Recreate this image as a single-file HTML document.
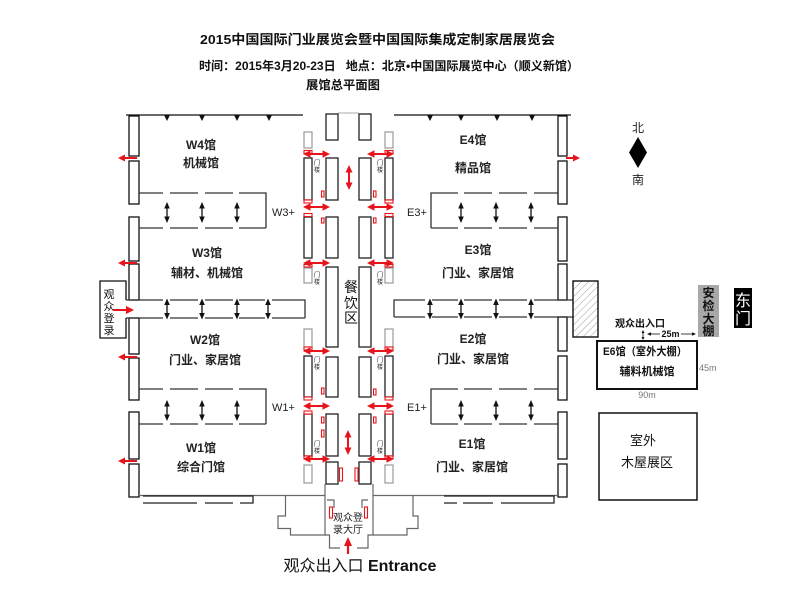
<!DOCTYPE html>
<html><head><meta charset="utf-8"><style>
html,body{margin:0;padding:0;background:#fff;}
svg{display:block;}
text{font-family:"Liberation Sans","Noto Sans CJK SC",sans-serif;}
</style></head><body>
<svg width="800" height="589" viewBox="0 0 800 589" xmlns="http://www.w3.org/2000/svg">
<defs>
<g id="bda"><line x1="0" y1="-6" x2="0" y2="6" stroke="#111" stroke-width="1.3"/><polygon points="0,-10.5 -2.8,-4 2.8,-4" fill="#111"/><polygon points="0,10.5 -2.8,4 2.8,4" fill="#111"/></g>
<g id="rda"><line x1="-8" y1="0" x2="8" y2="0" stroke="#e8141b" stroke-width="2"/><polygon points="-13.5,0 -6,-3.8 -6,3.8" fill="#e8141b"/><polygon points="13.5,0 6,-3.8 6,3.8" fill="#e8141b"/></g>
<g id="rdv"><line x1="0" y1="-7" x2="0" y2="7" stroke="#e8141b" stroke-width="2"/><polygon points="0,-12.5 -3.5,-5 3.5,-5" fill="#e8141b"/><polygon points="0,12.5 -3.5,5 3.5,5" fill="#e8141b"/></g>
<pattern id="hatch" width="5" height="5" patternUnits="userSpaceOnUse" patternTransform="rotate(45)"><line x1="0" y1="0" x2="0" y2="5" stroke="#888" stroke-width="0.8"/></pattern>
</defs>
<rect width="800" height="589" fill="#fff"/>

<!-- Titles -->
<text x="200" y="44" font-size="13" font-weight="bold" textLength="355" lengthAdjust="spacingAndGlyphs" fill="#111">2015中国国际门业展览会暨中国国际集成定制家居展览会</text>
<text x="199" y="70" font-size="12" font-weight="bold" textLength="380" lengthAdjust="spacingAndGlyphs" fill="#111">时间：2015年3月20-23日&#160;&#160;&#160;地点：北京•中国国际展览中心（顺义新馆）</text>
<text x="306" y="89" font-size="12" font-weight="bold" textLength="74" lengthAdjust="spacingAndGlyphs" fill="#111">展馆总平面图</text>

<!-- Top walls -->
<g stroke="#111" stroke-width="1.3">
<line x1="126" y1="115" x2="303" y2="115"/>
<line x1="394" y1="115" x2="571" y2="115"/>
<line x1="338" y1="113" x2="359" y2="113" stroke="#aaa" stroke-width="1"/>
</g>
<g fill="#111">
<polygon points="164,115 170,115 167,121"/><polygon points="199,115 205,115 202,121"/><polygon points="234,115 240,115 237,121"/><polygon points="266,115 272,115 269,121"/>
<polygon points="427,115 433,115 430,121"/><polygon points="458,115 464,115 461,121"/><polygon points="494,115 500,115 497,121"/><polygon points="529,115 535,115 532,121"/>
</g>

<!-- Side wall rects -->
<g fill="#fff" stroke="#111" stroke-width="1.3">
<rect x="129" y="116" width="10" height="40"/><rect x="129" y="161" width="10" height="43"/><rect x="129" y="217" width="10" height="44"/><rect x="129" y="264" width="10" height="36"/>
<rect x="129" y="318" width="10" height="36"/><rect x="129" y="358" width="10" height="42"/><rect x="129" y="412" width="10" height="47"/><rect x="129" y="464" width="10" height="33"/>
<rect x="558" y="116" width="9" height="40"/><rect x="558" y="161" width="9" height="43"/><rect x="558" y="217" width="9" height="44"/><rect x="558" y="264" width="9" height="36"/>
<rect x="558" y="317" width="9" height="34"/><rect x="558" y="356" width="9" height="44"/><rect x="558" y="412" width="9" height="47"/><rect x="558" y="464" width="9" height="33"/>
</g>

<!-- red exit arrows on walls -->
<g fill="#e8141b" stroke="#e8141b" stroke-width="2">
<line x1="124" y1="158" x2="137" y2="158"/><polygon points="118,158 125,154.5 125,161.5" stroke="none"/>
<line x1="124" y1="263" x2="137" y2="263"/><polygon points="118,263 125,259.5 125,266.5" stroke="none"/>
<line x1="124" y1="357" x2="137" y2="357"/><polygon points="118,357 125,353.5 125,360.5" stroke="none"/>
<line x1="124" y1="461" x2="137" y2="461"/><polygon points="118,461 125,457.5 125,464.5" stroke="none"/>
<line x1="566" y1="158" x2="574" y2="158"/><polygon points="580,158 573,154.5 573,161.5" stroke="none"/>
</g>

<!-- Corridors (dashed walls) -->
<g stroke="#333" stroke-width="1.3" fill="none">
<path d="M139,193H163M170,193H198M205,193H233M239,193H266V228M139,228H163M170,228H198M205,228H233M239,228H266"/>
<path d="M139,389H163M170,389H198M205,389H233M239,389H266V424M139,424H163M170,424H198M205,424H233M239,424H266"/>
<path d="M126,300H163M170,300H198M205,300H233M239,300H265M272,300H305V318M126,318H163M170,318H198M205,318H233M239,318H265M272,318H305"/>
<path d="M431,228V193H458M464,193H492M499,193H527M534,193H558M431,228H458M464,228H492M499,228H527M534,228H558"/>
<path d="M431,424V389H458M464,389H492M499,389H527M534,389H558M431,424H458M464,424H492M499,424H527M534,424H558"/>
<path d="M394,317V300H425M432,300H458M464,300H492M499,300H527M534,300H573M394,317H425M432,317H458M464,317H492M499,317H527M534,317H573"/>
</g>

<!-- Black double arrows -->
<use href="#bda" x="167" y="212.5"/><use href="#bda" x="202" y="212.5"/><use href="#bda" x="237" y="212.5"/>
<use href="#bda" x="167" y="309"/><use href="#bda" x="202" y="309"/><use href="#bda" x="237" y="309"/><use href="#bda" x="268" y="309"/>
<use href="#bda" x="167" y="410.5"/><use href="#bda" x="202" y="410.5"/><use href="#bda" x="237" y="410.5"/>
<use href="#bda" x="461" y="212.5"/><use href="#bda" x="496" y="212.5"/><use href="#bda" x="531" y="212.5"/>
<use href="#bda" x="430" y="309"/><use href="#bda" x="461" y="309"/><use href="#bda" x="496" y="309"/><use href="#bda" x="531" y="309"/>
<use href="#bda" x="461" y="410.5"/><use href="#bda" x="496" y="410.5"/><use href="#bda" x="531" y="410.5"/>

<!-- 观众登录 box -->
<path d="M126,300V281H100V338H126V318" fill="none" stroke="#111" stroke-width="1.3"/>
<g font-size="11" fill="#111" text-anchor="middle">
<text x="109" y="298">观</text><text x="109" y="310">众</text><text x="109" y="322">登</text><text x="109" y="334">录</text>
</g>
<line x1="113" y1="310" x2="127" y2="310" stroke="#e8141b" stroke-width="2"/><polygon points="134,310 126,306 126,314" fill="#e8141b"/>

<!-- Hall labels -->
<g font-size="12" font-weight="bold" fill="#222" text-anchor="middle">
<text x="201" y="149">W4馆</text><text x="201" y="167">机械馆</text>
<text x="207" y="257">W3馆</text><text x="207" y="277">辅材、机械馆</text>
<text x="205" y="344">W2馆</text><text x="205" y="364">门业、家居馆</text>
<text x="201" y="452">W1馆</text><text x="201" y="471">综合门馆</text>
<text x="473" y="144">E4馆</text><text x="473" y="172">精品馆</text>
<text x="478" y="254">E3馆</text><text x="478" y="277">门业、家居馆</text>
<text x="473" y="343">E2馆</text><text x="473" y="363">门业、家居馆</text>
<text x="472" y="448">E1馆</text><text x="472" y="471">门业、家居馆</text>
</g>
<g font-size="11" fill="#222">
<text x="272" y="216">W3+</text><text x="272" y="411">W1+</text>
<text x="407" y="216">E3+</text><text x="407" y="411">E1+</text>
</g>

<!-- Center column rects -->
<g fill="#fff" stroke="#999" stroke-width="1.2">
<rect x="304" y="132" width="8" height="16"/><rect x="304" y="268" width="8" height="15"/><rect x="304" y="329" width="8" height="18"/><rect x="304" y="465" width="8" height="18"/>
<rect x="385" y="132" width="8" height="16"/><rect x="385" y="268" width="8" height="15"/><rect x="385" y="329" width="8" height="18"/><rect x="385" y="465" width="8" height="18"/>
</g>
<g fill="#fff" stroke="#222" stroke-width="1.3">
<rect x="304" y="158" width="8" height="42"/><rect x="304" y="217" width="8" height="41"/><rect x="304" y="356" width="8" height="41"/><rect x="304" y="414" width="8" height="42"/>
<rect x="385" y="158" width="8" height="42"/><rect x="385" y="217" width="8" height="41"/><rect x="385" y="356" width="8" height="41"/><rect x="385" y="414" width="8" height="42"/>
<rect x="326" y="114" width="12" height="26"/><rect x="326" y="158" width="12" height="42"/><rect x="326" y="217" width="12" height="41"/><rect x="326" y="267" width="12" height="80"/><rect x="326" y="357" width="12" height="40"/><rect x="326" y="414" width="12" height="42"/><rect x="326" y="462" width="12" height="22"/>
<rect x="359" y="114" width="12" height="26"/><rect x="359" y="158" width="12" height="42"/><rect x="359" y="217" width="12" height="41"/><rect x="359" y="267" width="12" height="80"/><rect x="359" y="357" width="12" height="40"/><rect x="359" y="414" width="12" height="42"/><rect x="359" y="462" width="12" height="22"/>
</g>
<!-- small red door rects -->
<g fill="#fff" stroke="#e8141b" stroke-width="1.1">
<rect x="304" y="150.5" width="8" height="3"/><rect x="304" y="200" width="8" height="3"/><rect x="304" y="213.5" width="8" height="3"/><rect x="304" y="264.5" width="8" height="2.5"/><rect x="304" y="347" width="8" height="3"/><rect x="304" y="397" width="8" height="3"/><rect x="304" y="411" width="8" height="3"/><rect x="304" y="456" width="8" height="2.5"/>
<rect x="385" y="150.5" width="8" height="3"/><rect x="385" y="200" width="8" height="3"/><rect x="385" y="213.5" width="8" height="3"/><rect x="385" y="264.5" width="8" height="2.5"/><rect x="385" y="347" width="8" height="3"/><rect x="385" y="397" width="8" height="3"/><rect x="385" y="411" width="8" height="3"/><rect x="385" y="456" width="8" height="2.5"/>
<rect x="321.5" y="191" width="2.5" height="6"/><rect x="321.5" y="218" width="2.5" height="5"/><rect x="321.5" y="388" width="2.5" height="6"/><rect x="321.5" y="417" width="2.5" height="6"/><rect x="321.5" y="430" width="2.5" height="7"/>
<rect x="373.5" y="191" width="2.5" height="6"/><rect x="373.5" y="218" width="2.5" height="5"/><rect x="373.5" y="389" width="2.5" height="6"/><rect x="373.5" y="417" width="2.5" height="6"/>
<rect x="339.5" y="468" width="3" height="13"/><rect x="355" y="468" width="3" height="13"/>
<rect x="329.5" y="507" width="3" height="11"/><rect x="364.5" y="507" width="3" height="11"/>
</g>

<!-- red horizontal double arrows -->
<use href="#rda" x="316.5" y="154"/><use href="#rda" x="316.5" y="207"/><use href="#rda" x="316.5" y="263"/><use href="#rda" x="316.5" y="351"/><use href="#rda" x="316.5" y="406"/><use href="#rda" x="316.5" y="459"/>
<use href="#rda" x="380.5" y="154"/><use href="#rda" x="380.5" y="207"/><use href="#rda" x="380.5" y="263"/><use href="#rda" x="380.5" y="351"/><use href="#rda" x="380.5" y="406"/><use href="#rda" x="380.5" y="459"/>
<use href="#rdv" x="349" y="177.5"/><use href="#rdv" x="348" y="442.5"/>

<!-- 门楼 tiny labels -->
<g font-size="6" fill="#222" text-anchor="middle">
<text x="317" y="165">门</text><text x="317" y="172">楼</text>
<text x="317" y="277">门</text><text x="317" y="284">楼</text>
<text x="317" y="362">门</text><text x="317" y="369">楼</text>
<text x="317" y="446">门</text><text x="317" y="453">楼</text>
<text x="380" y="165">门</text><text x="380" y="172">楼</text>
<text x="380" y="277">门</text><text x="380" y="284">楼</text>
<text x="380" y="362">门</text><text x="380" y="369">楼</text>
<text x="380" y="446">门</text><text x="380" y="453">楼</text>
</g>

<!-- 餐饮区 -->
<g font-size="14" fill="#111" text-anchor="middle">
<text x="351" y="292">餐</text><text x="351" y="308">饮</text><text x="351" y="323">区</text>
</g>

<!-- Bottom walls & entrance building -->
<g fill="none" stroke="#666" stroke-width="1.2">
<line x1="139" y1="495.5" x2="325" y2="495.5"/>
<line x1="373" y1="495.5" x2="558" y2="495.5"/>
<path d="M285.5,495.5V516H278V528.5H290.5V535H325V484"/>
<path d="M325,535H329.5V548H340"/>
<path d="M413,495.5V516H418V528.5H407V535H373V484"/>
<path d="M373,535H368V548H357"/>
<path d="M327,500H334V508M368,500H362V508"/>
</g>
<g fill="none" stroke="#222" stroke-width="1.3">
<path d="M143,496H253V503H240M233,503H205M197,503H143Z"/>
<path d="M444,496H554V503H501M493,503H463M457,503H444Z"/>
</g>
<g font-size="10" fill="#222" text-anchor="middle">
<text x="348" y="521">观众登</text><text x="348" y="533">录大厅</text>
</g>
<line x1="348" y1="544" x2="348" y2="554" stroke="#e8141b" stroke-width="2.2"/>
<polygon points="348,537 344,546 352,546" fill="#e8141b"/>
<text x="360" y="571" font-size="16" text-anchor="middle" fill="#111">观众出入口 <tspan font-weight="bold">Entrance</tspan></text>

<!-- North indicator -->
<text x="638" y="132" font-size="12" text-anchor="middle" fill="#222">北</text>
<polygon points="638,137 647,152.5 638,168 629,152.5" fill="#000"/>
<text x="638" y="184" font-size="12" text-anchor="middle" fill="#222">南</text>

<!-- hatched block -->
<rect x="573" y="281" width="25" height="56" fill="url(#hatch)" stroke="#111" stroke-width="1.4"/>

<!-- E6 -->
<rect x="597" y="341" width="100" height="48" fill="#fff" stroke="#111" stroke-width="2"/>
<text x="603" y="355" font-size="11" font-weight="bold" fill="#111" textLength="84" lengthAdjust="spacingAndGlyphs">E6馆（室外大棚）</text>
<text x="647" y="375" font-size="11" font-weight="bold" fill="#111" text-anchor="middle">辅料机械馆</text>
<text x="699" y="371" font-size="9" fill="#777" font-family="Liberation Serif, serif">45m</text>
<text x="647" y="398" font-size="9" fill="#777" text-anchor="middle" font-family="Liberation Serif, serif">90m</text>
<text x="640" y="327" font-size="10" font-weight="bold" fill="#111" text-anchor="middle">观众出入口</text>
<g stroke="#111" stroke-width="0.8" fill="#111">
<line x1="643" y1="331" x2="643" y2="339"/>
<polygon points="643,330 641.5,333 644.5,333" stroke="none"/><polygon points="643,340 641.5,337 644.5,337" stroke="none"/>
<line x1="649" y1="334" x2="660" y2="334"/><polygon points="647,334 651,332.3 651,335.7" stroke="none"/>
<line x1="681" y1="334" x2="694" y2="334"/><polygon points="696,334 692,332.3 692,335.7" stroke="none"/>
</g>
<text x="670.5" y="337" font-size="9" font-weight="bold" fill="#111" text-anchor="middle">25m</text>

<!-- 安检大棚 -->
<rect x="698" y="285" width="21" height="52" fill="#a8a8a8"/>
<g font-size="12" font-weight="bold" fill="#111" text-anchor="middle">
<text x="708.5" y="297">安</text><text x="708.5" y="310">检</text><text x="708.5" y="323">大</text><text x="708.5" y="335">棚</text>
</g>
<!-- 东门 -->
<rect x="734" y="288" width="18" height="40" fill="#000"/>
<g font-size="16" fill="#fff" text-anchor="middle">
<text x="743" y="306">东</text><text x="743" y="324">门</text>
</g>

<!-- 室外木屋展区 -->
<rect x="599" y="413" width="98" height="87" fill="#fff" stroke="#111" stroke-width="1.5"/>
<g font-size="13" fill="#111" text-anchor="middle">
<text x="643" y="445">室外</text><text x="647" y="467">木屋展区</text>
</g>
</svg>
</body></html>
